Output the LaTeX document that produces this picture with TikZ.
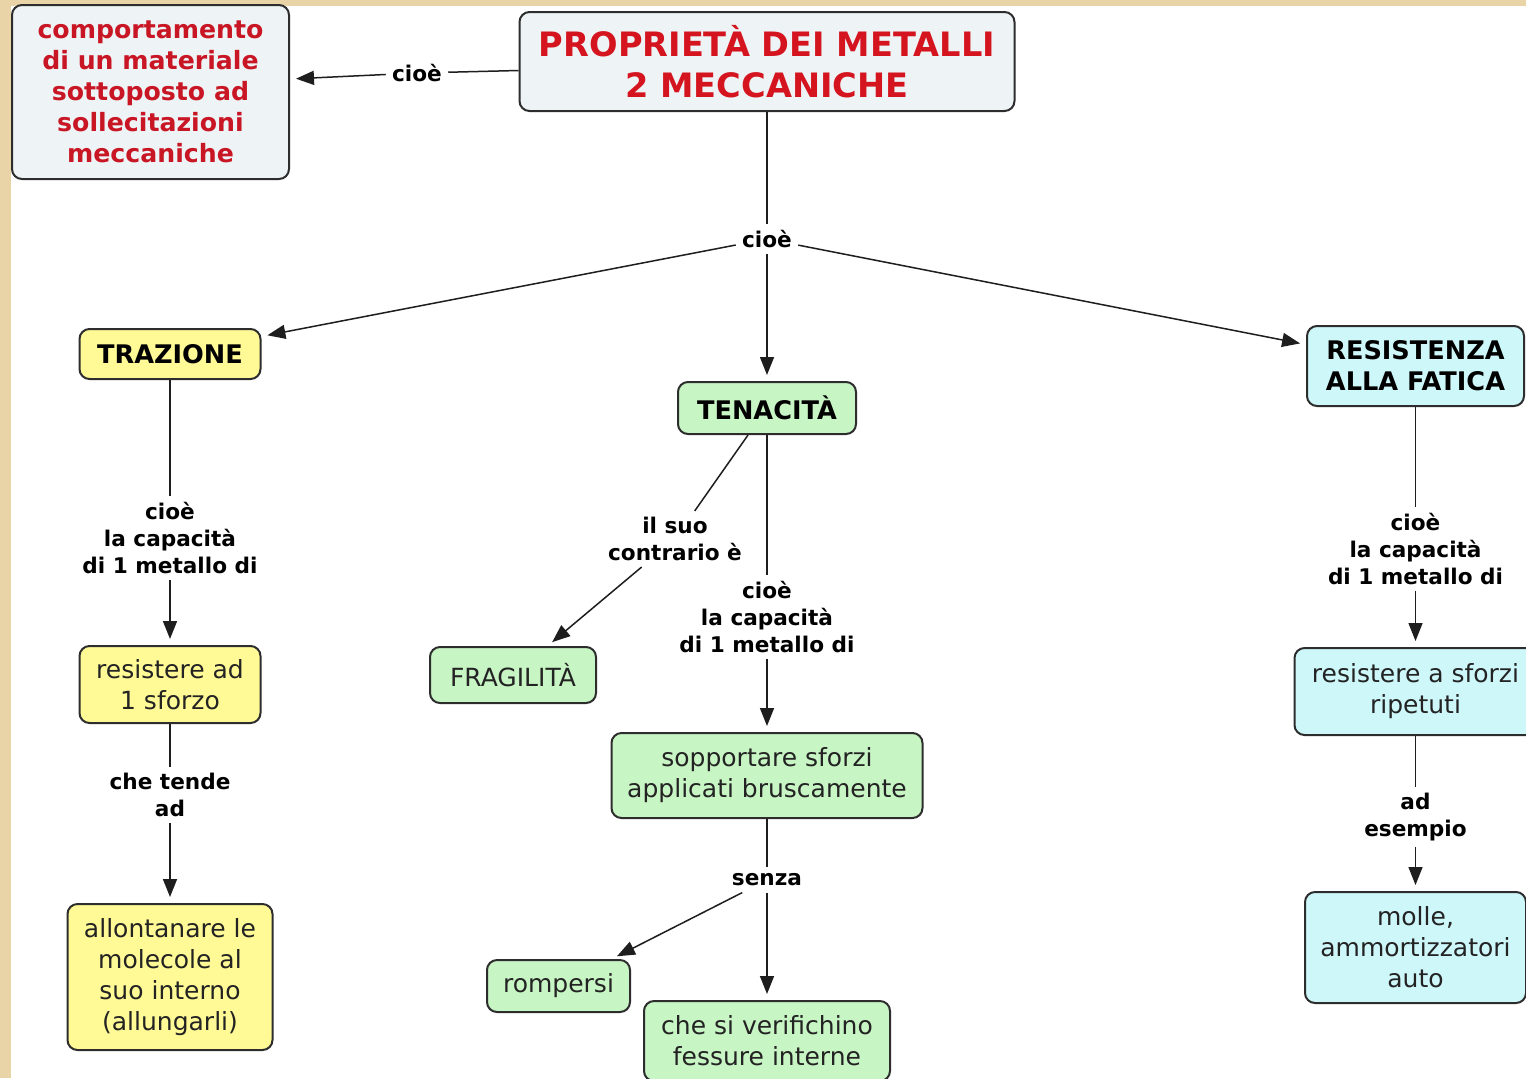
\documentclass[tikz,border=0pt]{standalone}
\usepackage{fontspec}
\setmainfont{DejaVu Sans}
\usetikzlibrary{arrows.meta,calc}
\definecolor{parch}{RGB}{233,212,168}
\definecolor{cgray}{RGB}{238,243,245}
\definecolor{cyel}{RGB}{255,249,150}
\definecolor{cgreen}{RGB}{200,245,196}
\definecolor{ccyan}{RGB}{206,247,250}
\definecolor{cred}{RGB}{212,20,30}
\definecolor{cred2}{RGB}{200,22,36}
\definecolor{boxline}{RGB}{45,45,45}
\definecolor{linecol}{RGB}{30,30,30}
\definecolor{bodytext}{RGB}{35,35,35}
\newcommand\mybody{\fontsize{12.5}{15.5}\selectfont}
\newcommand\myhead{\bfseries\fontsize{12.8}{15.5}\selectfont}
\newcommand\mylab{\bfseries\fontsize{10.8}{13.3}\selectfont}
\newcommand\mytitle{\bfseries\fontsize{16.8}{20.5}\selectfont}
\newcommand\mycomp{\bfseries\fontsize{12.6}{15.5}\selectfont}
\begin{document}
\begin{tikzpicture}[x=0.5pt,y=-0.5pt,
  box/.style={draw=boxline, line width=1pt, rounded corners=5pt, align=center,
    inner sep=0pt, text=bodytext, font=\mybody},
  headbox/.style={box, font=\myhead, text=black},
  lab/.style={font=\mylab, align=center, inner sep=3pt, text=black},
  conn/.style={draw=linecol, line width=0.75pt},
  arr/.style={conn, -{Triangle[length=9pt,width=7pt]}, shorten >=3pt}]
\useasboundingbox (0,0) rectangle (1526,1078);
\clip (0,0) rectangle (1526,1078);
\fill[parch] (0,0) rectangle (1526,1078);
\fill[white] (11,6) rectangle (1526,1078);

% boxes
\node[box, fill=cgray, font=\mycomp, text=cred2, minimum width=138.5pt, minimum height=87pt] (comp) at (150.5,92)
  {comportamento\\di un materiale\\sottoposto ad\\sollecitazioni\\meccaniche};
\node[box, fill=cgray, font=\mytitle, text=cred, minimum width=247.5pt, minimum height=49.5pt] (title) at (767,61.5)
  {PROPRIETÀ DEI METALLI\\2 MECCANICHE};
\node[headbox, fill=cyel, minimum width=90.5pt, minimum height=25pt] (traz) at (170,354) {TRAZIONE};
\node[headbox, fill=cgreen, minimum width=89pt, minimum height=26pt] (tenac) at (767,408) {TENACITÀ};
\node[headbox, fill=ccyan, minimum width=108.5pt, minimum height=40pt] (resist) at (1415.5,366) {RESISTENZA\\ALLA FATICA};
\node[box, fill=cyel, minimum width=90.5pt, minimum height=38.5pt] (resad) at (170,684.5) {resistere ad\\1 sforzo};
\node[box, fill=cyel, minimum width=102.5pt, minimum height=73pt] (allont) at (170,977)
  {allontanare le\\molecole al\\suo interno\\(allungarli)};
\node[box, fill=cgreen, minimum width=83pt, minimum height=28pt] (fragil) at (513,675) {FRAGILITÀ};
\node[box, fill=cgreen, minimum width=155.5pt, minimum height=42.5pt] (soppor) at (767,775.5)
  {sopportare sforzi\\applicati bruscamente};
\node[box, fill=cgreen, minimum width=71.5pt, minimum height=26pt] (romp) at (558.5,986) {rompersi};
\node[box, fill=cgreen, minimum width=123pt, minimum height=40pt] (chesi) at (767,1041)
  {che si verifichino\\fessure interne};
\node[box, fill=ccyan, minimum width=121pt, minimum height=43.5pt] (resrip) at (1415.5,691.5)
  {resistere a sforzi\\ripetuti};
\node[box, fill=ccyan, minimum width=110.5pt, minimum height=55.5pt] (molle) at (1415.5,947.5)
  {molle,\\ammortizzatori\\auto};

% labels
\node[lab] (cioe1) at (417,73) {cioè};
\node[lab] (cioe2) at (767,239) {cioè};
\node[lab] (lt1) at (170,538) {cioè\\la capacità\\di 1 metallo di};
\node[lab] (lt2) at (170,795) {che tende\\ad};
\node[lab] (lc) at (675,539) {il suo\\contrario è};
\node[lab] (ltn) at (767,617) {cioè\\la capacità\\di 1 metallo di};
\node[lab] (senza) at (767,880) {senza};
\node[lab] (lr1) at (1415.5,549) {cioè\\la capacità\\di 1 metallo di};
\node[lab] (lr2) at (1415.5,817) {ad\\esempio};

% connectors
\draw[conn] ($(title.west)+(0,9)$) -- (cioe1);
\draw[arr] (cioe1) -- ($(comp.east)+(0,-13)$);
\draw[conn] (title) -- (cioe2);
\draw[arr] (cioe2) -- (traz);
\draw[arr] (cioe2) -- (tenac);
\draw[arr] (cioe2) -- (resist);
\draw[conn] (traz) -- (lt1);
\draw[arr] (lt1) -- (resad);
\draw[conn] (resad) -- (lt2);
\draw[arr] (lt2) -- (allont);
\draw[conn] (tenac) -- (lc);
\draw[arr] (lc) -- (fragil);
\draw[conn] (tenac) -- (ltn);
\draw[arr] (ltn) -- (soppor);
\draw[conn] (soppor) -- (senza);
\draw[arr] (senza) -- (romp);
\draw[arr] (senza) -- (chesi);
\draw[conn] (resist) -- (lr1);
\draw[arr] (lr1) -- (resrip);
\draw[conn] (resrip) -- (lr2);
\draw[arr] (lr2) -- (molle);
\end{tikzpicture}
\end{document}
